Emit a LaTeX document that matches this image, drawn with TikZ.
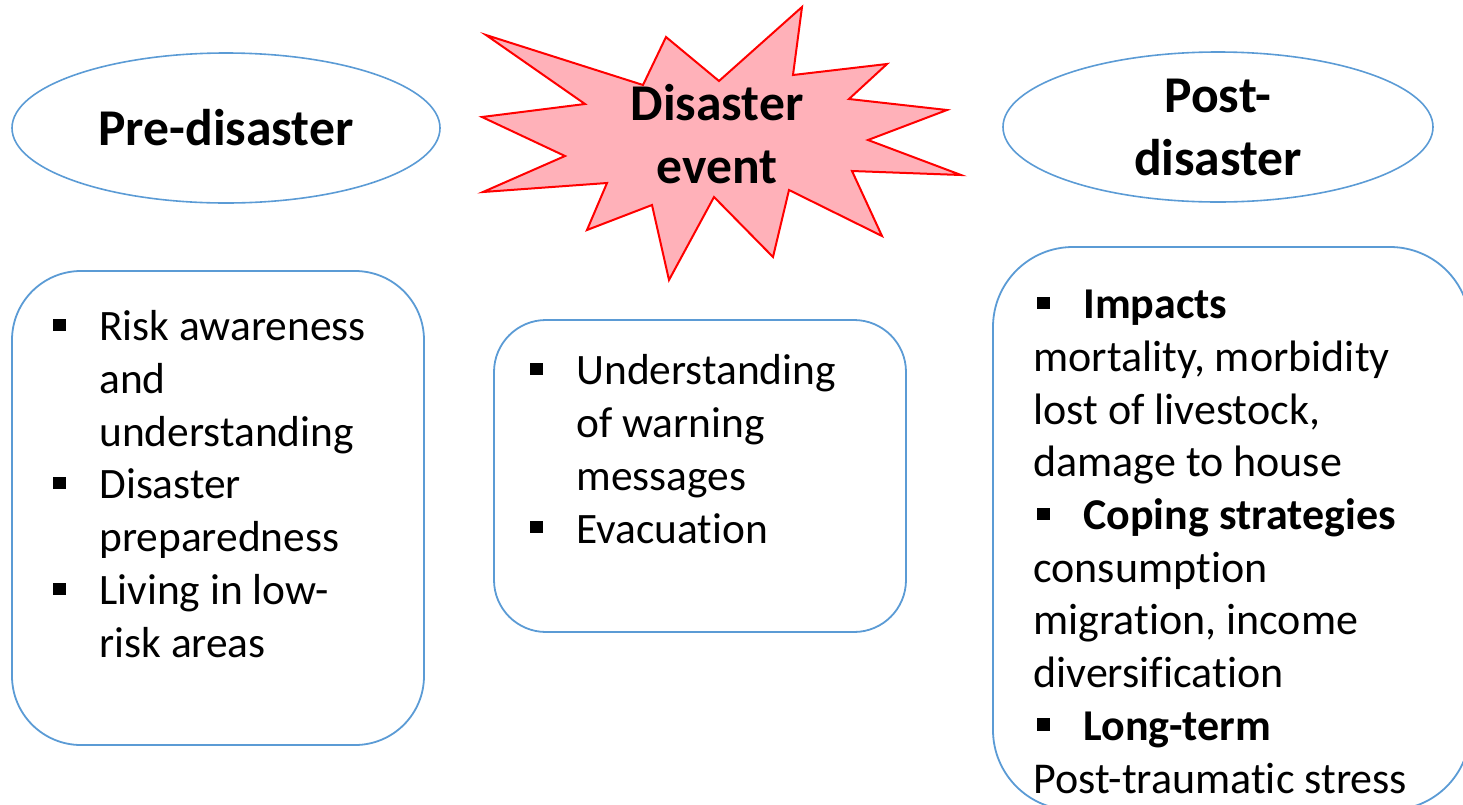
\documentclass[tikz,border=0pt]{standalone}
\usepackage{fontspec}
\setmainfont{Carlito}[Ligatures=NoCommon]
\usetikzlibrary{shapes.geometric}
\definecolor{phaseblue}{HTML}{5B9BD5}
\definecolor{burstpink}{HTML}{FFB1B9}
\newcommand\headfont{\fontsize{25.8}{31.5}\selectfont\bfseries}
\newcommand\listfont{\fontsize{21.7}{26.35}\selectfont}
\newcommand\smalllistfont{\fontsize{22}{26.35}\selectfont}
\newcommand\sqmark{\rule[0.22em]{0.28em}{0.28em}}
\newcommand\sqb{\makebox[23pt][l]{\sqmark}}
\newcommand\sqbr{\makebox[25pt][l]{\hspace*{2pt}\sqmark}}
\newcommand\ind{\hspace*{23pt}}
\tikzset{
  phase/.style = {ellipse, draw=phaseblue, line width=0.8pt, inner sep=0pt,
    font=\headfont, align=center},
  listbox/.style = {rectangle, draw=phaseblue, line width=0.9pt, inner sep=0pt},
  listtext/.style = {align=left, inner sep=0pt, anchor=base west},
  burst/.style = {draw=red, fill=burstpink, line width=1pt, line join=miter}
}

\begin{document}
\begin{tikzpicture}[x=0.5pt,y=-0.5pt]
  \useasboundingbox (0,0) rectangle (1463,804);
  % phase headings
  \node[phase, minimum width=214pt, minimum height=75pt] (pre) at (226,128) {Pre-disaster};
  \node[phase, minimum width=215pt, minimum height=75pt] (post) at (1218,127) {Post-\\disaster};
  % explosion
  \draw[burst] (486,35) -- (643,85) -- (666,37) -- (719,81) -- (802,7) -- (793,75)
    -- (887,64) -- (849,99) -- (947,110) -- (868,140) -- (961,175) -- (852,171)
    -- (882,236) -- (789,190) -- (773,257) -- (714,197) -- (669,280) -- (652,205)
    -- (587,230) -- (607,183) -- (483,192) -- (565,156) -- (482,117) -- (585,104)
    -- cycle;
  \node[font=\headfont, align=center, inner sep=0pt, anchor=base] (event) at (717,183) {Disaster\\event};
  % lists
  \node[listbox, minimum width=206pt, minimum height=237pt, rounded corners=34.5pt] (prebox) at (218,508) {};
  \node[listbox, minimum width=206pt, minimum height=156pt, rounded corners=26pt] (eventbox) at (700,476) {};
  \node[listbox, minimum width=238.5pt, minimum height=281.5pt, rounded corners=40pt] (postbox) at (1231.5,528.5) {};
  \node[listtext, font=\listfont] (pretext) at (53,657) {%
    \sqb Risk awareness\\
    \ind and\\
    \ind understanding\\
    \sqb Disaster\\
    \ind preparedness\\
    \sqb Living in low-\\
    \ind risk areas};
  \node[listtext, font=\listfont] (eventtext) at (530,543) {%
    \sqb Understanding\\
    \ind of warning\\
    \ind messages\\
    \sqb Evacuation};
  \node[listtext, font=\smalllistfont] (posttext) at (1033,793) {%
    \sqbr\textbf{Impacts}\\
    mortality, morbidity\\
    lost of livestock,\\
    damage to house\\
    \sqbr\textbf{Coping strategies}\\
    consumption\\
    migration, income\\
    diversification\\
    \sqbr\textbf{Long-term}\\
    Post-traumatic stress};
\end{tikzpicture}
\end{document}
